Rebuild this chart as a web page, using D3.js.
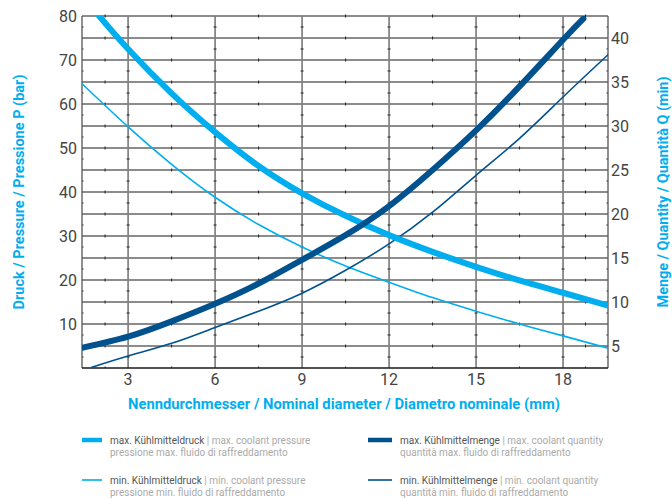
<!DOCTYPE html>
<html>
<head>
<meta charset="utf-8">
<script src="https://cdn.jsdelivr.net/npm/d3@7"></script>
<style>
  body { margin: 0; background: #fff; }
  text { font-family: Roboto, "Noto Sans", sans-serif; }
</style>
</head>
<body>
<script>
// diameter (mm) / value pairs, one pair of arrays per curve
var maxPressureD = [2, 3, 4.5, 6, 7.5, 9, 10.5, 12, 13.5, 15, 16.5, 18, 19.5];
var maxPressure  = [80, 72.5, 62.4, 53.6, 45.9, 39.7, 34.6, 30.2, 26.4, 23.0, 19.9, 17.1, 14.3];

var minPressureD = [1.41, 3, 4.5, 6, 7.5, 9, 10.5, 12, 13.5, 15, 16.5, 18, 19.55];
var minPressure  = [64.6, 54.8, 46.3, 38.8, 32.6, 27.5, 23.2, 19.5, 16.0, 12.9, 10.0, 7.3, 4.5];

var maxQuantityD = [1.41, 3, 4.5, 6, 7.5, 9, 10.5, 12, 13.5, 15, 16.5, 18, 18.7];
var maxQuantity  = [4.8, 6.06, 7.8, 9.8, 12.1, 14.8, 17.6, 20.9, 25.0, 29.5, 34.5, 39.8, 42.2];

var minQuantityD = [1.75, 3, 4.5, 6, 7.5, 9, 10.5, 12, 13.5, 15, 16.5, 18, 19.55];
var minQuantity  = [2.58, 3.86, 5.3, 7.1, 8.95, 11.0, 13.6, 16.6, 20.2, 24.4, 28.6, 33.3, 38.1];

var xTicks = [3, 6, 9, 12, 15, 18];
var leftTicks = [10, 20, 30, 40, 50, 60, 70, 80];
var rightTicks = [5, 10, 15, 20, 25, 30, 35, 40];

var xTitle = "Nenndurchmesser / Nominal diameter / Diametro nominale (mm)";
var leftTitle = "Druck / Pressure / Pressione P (bar)";
var rightTitle = "Menge / Quantity / Quantità Q (min)";

var legendItems = [
  {de: "max. Kühlmitteldruck", en: " | max. coolant pressure", it: "pressione max. fluido di raffreddamento"},
  {de: "min. Kühlmitteldruck", en: " | min. coolant pressure", it: "pressione min. fluido di raffreddamento"},
  {de: "max. Kühlmittelmenge", en: " | max. coolant quantity", it: "quantità max. fluido di raffreddamento"},
  {de: "min. Kühlmittelmenge", en: " | min. coolant quantity", it: "quantità min. fluido di raffreddamento"}
];

var lightBlue = "#00aeef", darkBlue = "#00528f";

var svg = d3.select("body").append("svg")
    .attr("width", 672)
    .attr("height", 499);

var plotL = 82, plotR = 608, plotT = 16, plotB = 368;

var x = d3.scaleLinear().domain([1.41, 19.55]).range([plotL, plotR]);
var yP = d3.scaleLinear().domain([0, 80]).range([plotB, plotT]);
var yQ = d3.scaleLinear().domain([2.5, 42.5]).range([plotB, plotT]);

// horizontal grid lines every 5 bar
var hLines = d3.range(5, 81, 5);
svg.append("g").selectAll("line").data(hLines).enter().append("line")
    .attr("x1", plotL).attr("x2", plotR)
    .attr("y1", d => yP(d)).attr("y2", d => yP(d))
    .attr("stroke", "#1a1a1a").attr("stroke-width", 1.1);

// vertical grid lines
svg.append("g").selectAll("line").data(xTicks).enter().append("line")
    .attr("x1", d => x(d)).attr("x2", d => x(d))
    .attr("y1", plotT).attr("y2", plotB)
    .attr("stroke", "#808080").attr("stroke-width", 1.7);

// minor ticks
var xMinor = [(x.domain()[0] + 3) / 2, 4.5, 7.5, 10.5, 13.5, 16.5, (18 + x.domain()[1]) / 2];
var yMinor = d3.range(2.5, 80, 5);
var vLinesAll = [x.domain()[0]].concat(xTicks, [x.domain()[1]]);
var minor = svg.append("g").attr("stroke", "#222").attr("stroke-width", 1);
hLines.concat([0]).forEach(function(h) {
  xMinor.forEach(function(m) {
    minor.append("line").attr("x1", x(m)).attr("x2", x(m))
      .attr("y1", yP(h) - 1.5).attr("y2", h == 0 ? yP(h) : yP(h) + 1.5);
  });
});
vLinesAll.forEach(function(v, i) {
  yMinor.forEach(function(m) {
    var x1 = x(v) - 1.5, x2 = x(v) + 1.5;
    if (i == 0) x1 = x(v);
    if (i == vLinesAll.length - 1) x2 = x(v);
    minor.append("line").attr("x1", x1).attr("x2", x2)
      .attr("y1", yP(m)).attr("y2", yP(m));
  });
});

// frame
svg.append("line").attr("x1", plotL).attr("x2", plotL).attr("y1", plotT).attr("y2", plotB)
    .attr("stroke", "#555").attr("stroke-width", 1.3);
svg.append("line").attr("x1", plotR).attr("x2", plotR).attr("y1", plotT).attr("y2", plotB)
    .attr("stroke", "#555").attr("stroke-width", 1.3);
svg.append("line").attr("x1", plotL).attr("x2", plotR).attr("y1", plotB).attr("y2", plotB)
    .attr("stroke", "#1a1a1a").attr("stroke-width", 1.3);

// tick labels
svg.append("g").selectAll("text").data(leftTicks).enter().append("text")
    .attr("x", 77).attr("y", d => yP(d) + 6)
    .attr("text-anchor", "end").attr("font-size", 16).attr("fill", "#444")
    .text(d => d);
svg.append("g").selectAll("text").data(rightTicks).enter().append("text")
    .attr("x", 611).attr("y", d => yQ(d) + 6)
    .attr("font-size", 16).attr("fill", "#444")
    .text(d => d);
svg.append("g").selectAll("text").data(xTicks).enter().append("text")
    .attr("x", d => x(d)).attr("y", 385)
    .attr("text-anchor", "middle").attr("font-size", 16).attr("fill", "#444")
    .text(d => d);

// axis titles
svg.append("text").attr("x", 344).attr("y", 409)
    .attr("text-anchor", "middle").attr("font-size", 14).attr("font-weight", "bold")
    .attr("fill", lightBlue).attr("textLength", 432).attr("lengthAdjust", "spacingAndGlyphs")
    .text(xTitle);
svg.append("text").attr("transform", "translate(24,192) rotate(-90)")
    .attr("text-anchor", "middle").attr("font-size", 14).attr("font-weight", "bold")
    .attr("fill", lightBlue).attr("textLength", 235).attr("lengthAdjust", "spacingAndGlyphs")
    .text(leftTitle);
svg.append("text").attr("transform", "translate(668,192) rotate(-90)")
    .attr("text-anchor", "middle").attr("font-size", 14).attr("font-weight", "bold")
    .attr("fill", lightBlue).attr("textLength", 231).attr("lengthAdjust", "spacingAndGlyphs")
    .text(rightTitle);

// curves
svg.append("clipPath").attr("id", "plot").append("rect")
    .attr("x", plotL).attr("y", plotT).attr("width", plotR - plotL).attr("height", plotB - plotT);

function curve(ds, vs, yScale, color, width) {
  var pts = ds.map((d, i) => [d, vs[i]]);
  var line = d3.line().x(p => x(p[0])).y(p => yScale(p[1])).curve(d3.curveNatural);
  svg.append("path").datum(pts)
    .attr("clip-path", "url(#plot)")
    .attr("d", line)
    .attr("fill", "none").attr("stroke", color).attr("stroke-width", width)
    .attr("stroke-linecap", "round");
}
curve(minPressureD, minPressure, yP, lightBlue, 1.6);
curve(minQuantityD, minQuantity, yQ, darkBlue, 1.6);
curve(maxPressureD, maxPressure, yP, lightBlue, 6);
curve(maxQuantityD, maxQuantity, yQ, darkBlue, 6);

// legend
var legendPos = [
  {x: 82, y: 440, w: 20, color: lightBlue, thick: 4.5},
  {x: 82, y: 480, w: 20, color: lightBlue, thick: 1.6},
  {x: 368, y: 440, w: 24, color: darkBlue, thick: 4.5},
  {x: 368, y: 480, w: 24, color: darkBlue, thick: 1.6}
];
legendItems.forEach(function(item, i) {
  var p = legendPos[i];
  svg.append("rect").attr("x", p.x).attr("y", p.y - p.thick / 2)
    .attr("width", p.w).attr("height", p.thick).attr("fill", p.color);
  var tx = p.x + (p.w == 20 ? 28 : 32);
  var t = svg.append("text").attr("x", tx).attr("y", p.y + 3.5).attr("font-size", 10);
  t.append("tspan").attr("fill", "#555").text(item.de);
  t.append("tspan").attr("fill", "#aaa").text(item.en);
  svg.append("text").attr("x", tx).attr("y", p.y + 16).attr("font-size", 10)
    .attr("fill", "#aaa").text(item.it);
});
</script>
</body>
</html>
